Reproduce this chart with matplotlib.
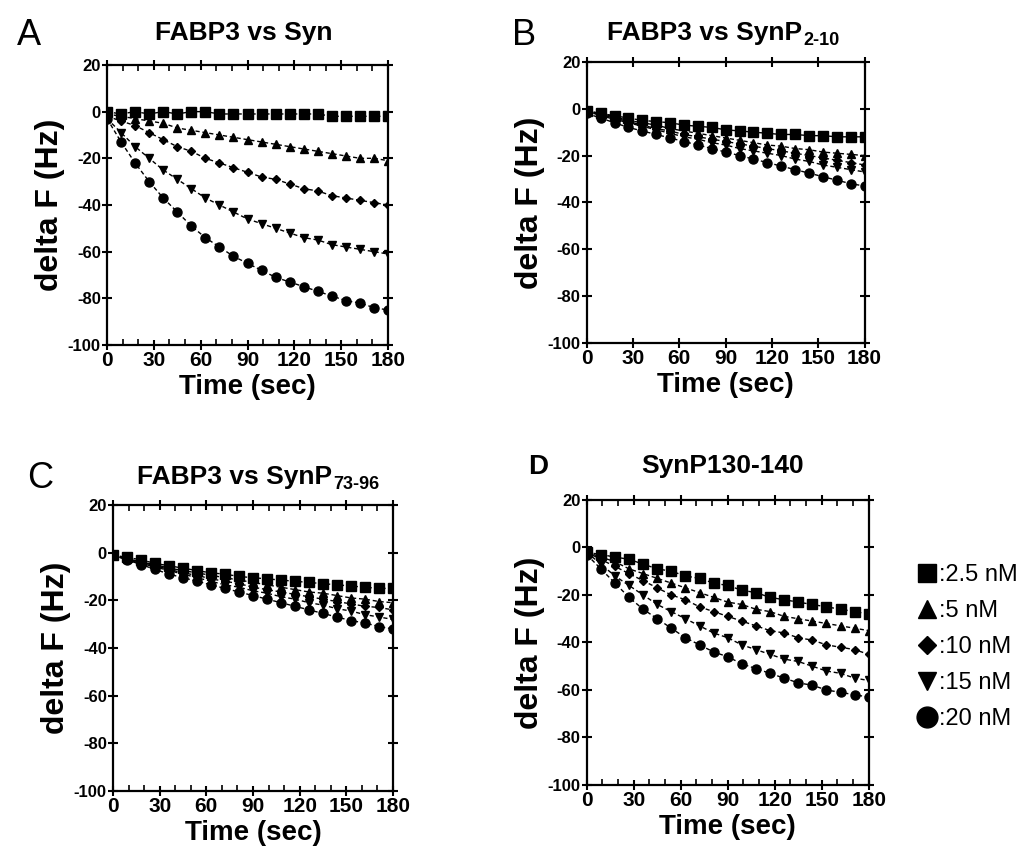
import numpy as np
import matplotlib
matplotlib.use('Agg')
import matplotlib.pyplot as plt
from matplotlib.lines import Line2D
from matplotlib.ticker import MultipleLocator

plt.rcParams['font.family'] = ['Liberation Sans', 'DejaVu Sans']
plt.rcParams['axes.unicode_minus'] = False

# time points (sec)
t = [0, 9, 18, 27, 36, 45, 54, 63, 72, 81, 90, 99, 108, 117, 126, 135, 144, 153, 162, 171, 180]

conc_labels = [':2.5 nM', ':5 nM', ':10 nM', ':15 nM', ':20 nM']
markers = ['s', '^', 'D', 'v', 'o']

# Panel A: FABP3 vs Syn
a_25 = [0, -1, 0, -1, 0, -1, 0, 0, -1, -1, -1, -1, -1, -1, -1, -1, -2, -2, -2, -2, -2]
a_5 = [-1, -2, -3, -4, -5, -7, -8, -9, -10, -11, -12, -13, -14, -15, -16, -17, -18, -19, -20, -20, -21]
a_10 = [-2, -4, -6, -9, -12, -15, -17, -20, -22, -24, -26, -28, -29, -31, -33, -34, -36, -37, -38, -39, -40]
a_15 = [-3, -9, -15, -20, -25, -29, -33, -37, -40, -43, -46, -48, -50, -52, -54, -55, -57, -58, -59, -60, -61]
a_20 = [-3, -13, -22, -30, -37, -43, -49, -54, -58, -62, -65, -68, -71, -73, -75, -77, -79, -81, -82, -84, -85]

# Panel B: FABP3 vs SynP2-10
b_25 = [-1, -2, -3, -4, -5, -5.5, -6, -7, -7.5, -8, -9, -9.5, -10, -10.5, -11, -11, -11.5, -11.5, -12, -12, -12]
b_5 = [-1, -2, -3.5, -5, -6, -7, -8.5, -9.5, -10.5, -11.5, -12.5, -13.5, -14.5, -15.5, -16, -17, -17.5, -18.5, -19, -19.5, -20]
b_10 = [-1, -2.5, -4, -5.5, -7, -8.5, -9.5, -11, -12, -13, -14, -15, -16, -17, -18, -19, -20, -21, -22, -23, -24]
b_15 = [-1, -3, -4.5, -6, -7.5, -9, -10.5, -12, -13, -14.5, -15.5, -17, -18, -19, -20, -21.5, -22.5, -24, -25, -26, -27]
b_20 = [-2, -4, -6, -8, -9.5, -11, -12.5, -14, -15.5, -17, -18.5, -20, -21.5, -23, -24.5, -26, -27.5, -29, -30.5, -32, -33]

# Panel C: FABP3 vs SynP73-96
c_25 = [-1, -2, -3, -4.5, -5.5, -6.5, -7.5, -8.5, -9, -10, -10.5, -11, -11.5, -12, -12.5, -13, -13.5, -14, -14.5, -15, -15]
c_5 = [-1, -2.5, -4, -5, -6.5, -7.5, -8.5, -9.5, -10.5, -11.5, -12.5, -13.5, -14.5, -15.5, -16.5, -17, -18, -19, -19.5, -20.5, -21]
c_10 = [-1, -2.5, -4, -5.5, -7, -8.5, -9.5, -11, -12, -13, -14.5, -15.5, -16.5, -17.5, -18.5, -19.5, -20.5, -21.5, -22.5, -23, -24]
c_15 = [-1, -3, -4.5, -6, -7.5, -9, -10.5, -12, -13.5, -14.5, -16, -17, -18.5, -19.5, -21, -22, -23.5, -24.5, -26, -27, -28]
c_20 = [-1, -3, -5, -7, -9, -10.5, -12, -13.5, -15, -16.5, -18, -19.5, -21, -22.5, -24, -25.5, -27, -28.5, -29.5, -31, -32]

# Panel D: SynP130-140
d_25 = [-2, -3, -4, -5, -7, -9, -10, -12, -13, -15, -16, -18, -19, -21, -22, -23, -24, -25, -26, -27, -28]
d_5 = [-2, -4, -6, -9, -11, -13, -15, -17, -19, -21, -23, -24, -26, -27, -29, -30, -31, -32, -33, -34, -35]
d_10 = [-2, -5, -8, -11, -14, -17, -20, -22, -25, -27, -29, -31, -33, -35, -36, -38, -39, -41, -42, -43, -45]
d_15 = [-2, -7, -12, -16, -20, -24, -27, -30, -33, -36, -38, -41, -43, -45, -47, -48, -50, -52, -53, -55, -56]
d_20 = [-3, -9, -15, -21, -26, -30, -34, -38, -41, -44, -46, -49, -51, -53, -55, -57, -58, -60, -61, -62, -63]

panels = [
    ([a_25, a_5, a_10, a_15, a_20], True),
    ([b_25, b_5, b_10, b_15, b_20], False),
    ([c_25, c_5, c_10, c_15, c_20], True),
    ([d_25, d_5, d_10, d_15, d_20], True),
]

# axes positions (figure fraction)
positions = [
    [0.1036, 0.5927, 0.272, 0.3306],
    [0.568, 0.595, 0.269, 0.332],
    [0.1094, 0.0661, 0.271, 0.3377],
    [0.568, 0.0732, 0.273, 0.3365],
]

fig = plt.figure(figsize=(10.33, 8.47), dpi=100)

msizes = [6.5, 5.5, 4.5, 5.5, 6.5]

for (series, minor), pos in zip(panels, positions):
    ax = fig.add_axes(pos)
    for y, m, ms in zip(series, markers, msizes):
        ax.plot(t, y, color='black', marker=m, markersize=ms, linestyle=(0, (3, 2)),
                linewidth=1.0)
    ax.set_xlim(0, 180)
    ax.set_ylim(-100, 20)
    ax.xaxis.set_major_locator(MultipleLocator(30))
    ax.yaxis.set_major_locator(MultipleLocator(20))
    if minor:
        ax.xaxis.set_minor_locator(MultipleLocator(10))
    ax.tick_params(which='major', direction='inout', length=7, width=1.5,
                   top=True, right=True, pad=1)
    ax.tick_params(which='minor', direction='in', length=4, width=1.2,
                   top=True, right=True)
    ax.tick_params(axis='x', which='major', labelsize=15)
    ax.tick_params(axis='y', which='major', labelsize=12)
    for lab in ax.get_xticklabels() + ax.get_yticklabels():
        lab.set_fontweight('bold')
    for sp in ax.spines.values():
        sp.set_linewidth(1.6)
    ax.set_xlabel('Time (sec)', fontsize=20, fontweight='bold', labelpad=3)
    ax.set_ylabel('delta F (Hz)', fontsize=23, fontweight='bold', labelpad=2)

# panel letters
fig.text(17 / 1033, 1 - 45 / 847, 'A', fontsize=26)
fig.text(512 / 1033, 1 - 45 / 847, 'B', fontsize=26)
fig.text(27 / 1033, 1 - 488 / 847, 'C', fontsize=26)
fig.text(528 / 1033, 1 - 474 / 847, 'D', fontsize=20, fontweight='bold')

# titles (subscripts drawn as separate small texts)
fig.text(244 / 1033, 1 - 33 / 847, 'FABP3 vs Syn', fontsize=19, fontweight='bold',
         ha='center', va='center')
tb = fig.text(607 / 1033, 1 - 33 / 847, 'FABP3 vs SynP', fontsize=19, fontweight='bold',
              ha='left', va='center')
plt.annotate('2-10', xy=(1, 0), xycoords=tb, xytext=(1, -3), textcoords='offset points',
             fontsize=13, fontweight='bold', ha='left', va='bottom', annotation_clip=False)
tc = fig.text(137 / 1033, 1 - 477 / 847, 'FABP3 vs SynP', fontsize=19, fontweight='bold',
              ha='left', va='center')
plt.annotate('73-96', xy=(1, 0), xycoords=tc, xytext=(1, -3), textcoords='offset points',
             fontsize=13, fontweight='bold', ha='left', va='bottom', annotation_clip=False)
fig.text(723 / 1033, 1 - 466 / 847, 'SynP130-140', fontsize=19, fontweight='bold',
         ha='center', va='center')

# legend
leg_sizes = [13, 13, 9, 13, 15]
handles = [Line2D([], [], color='black', marker=m, markersize=s, linestyle='none')
           for m, s in zip(markers, leg_sizes)]
fig.legend(handles, conc_labels, loc='upper left', bbox_to_anchor=(905 / 1033, 1 - 552 / 847),
           frameon=False, fontsize=17, handlelength=0.9, handletextpad=0.05,
           labelspacing=0.6, borderpad=0)

fig.savefig('out.png', dpi=100)
